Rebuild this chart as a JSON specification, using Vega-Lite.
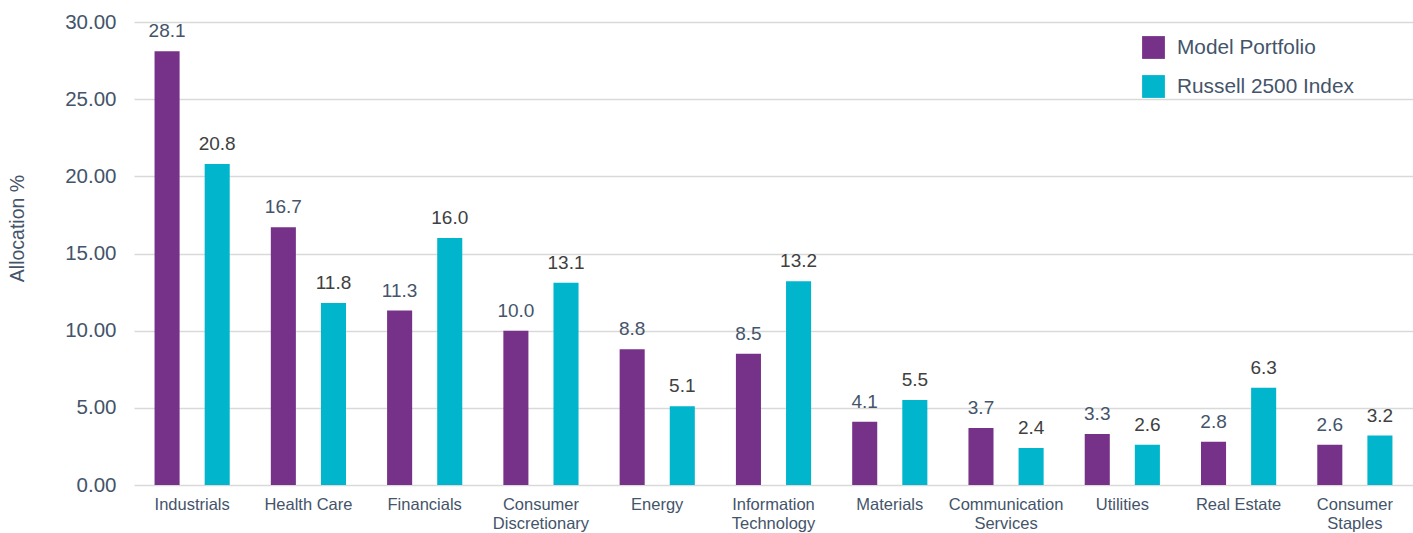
{
  "$schema": "https://vega.github.io/schema/vega-lite/v6.json",
  "autosize": {"type": "none"},
  "padding": {"left": 134, "top": 22, "right": 0, "bottom": 48},
  "width": 1279,
  "height": 463,
  "background": "white",
  "config": {
    "view": {"stroke": null},
    "font": "Liberation Sans"
  },
  "data": {
    "values": [
      {"sector": "Industrials", "series": "Model Portfolio", "value": 28.1},
      {"sector": "Industrials", "series": "Russell 2500 Index", "value": 20.8},
      {"sector": "Health Care", "series": "Model Portfolio", "value": 16.7},
      {"sector": "Health Care", "series": "Russell 2500 Index", "value": 11.8},
      {"sector": "Financials", "series": "Model Portfolio", "value": 11.3},
      {"sector": "Financials", "series": "Russell 2500 Index", "value": 16.0},
      {"sector": "Consumer Discretionary", "series": "Model Portfolio", "value": 10.0},
      {"sector": "Consumer Discretionary", "series": "Russell 2500 Index", "value": 13.1},
      {"sector": "Energy", "series": "Model Portfolio", "value": 8.8},
      {"sector": "Energy", "series": "Russell 2500 Index", "value": 5.1},
      {"sector": "Information Technology", "series": "Model Portfolio", "value": 8.5},
      {"sector": "Information Technology", "series": "Russell 2500 Index", "value": 13.2},
      {"sector": "Materials", "series": "Model Portfolio", "value": 4.1},
      {"sector": "Materials", "series": "Russell 2500 Index", "value": 5.5},
      {"sector": "Communication Services", "series": "Model Portfolio", "value": 3.7},
      {"sector": "Communication Services", "series": "Russell 2500 Index", "value": 2.4},
      {"sector": "Utilities", "series": "Model Portfolio", "value": 3.3},
      {"sector": "Utilities", "series": "Russell 2500 Index", "value": 2.6},
      {"sector": "Real Estate", "series": "Model Portfolio", "value": 2.8},
      {"sector": "Real Estate", "series": "Russell 2500 Index", "value": 6.3},
      {"sector": "Consumer Staples", "series": "Model Portfolio", "value": 2.6},
      {"sector": "Consumer Staples", "series": "Russell 2500 Index", "value": 3.2}
    ]
  },
  "encoding": {
    "x": {
      "field": "sector",
      "type": "nominal",
      "sort": null,
      "scale": {"paddingInner": 0, "paddingOuter": 0},
      "axis": {
        "title": null,
        "labelAngle": 0,
        "domain": false,
        "ticks": false,
        "labelPadding": 11,
        "labelFontSize": 16.5,
        "labelColor": "#44546A",
        "labelLineHeight": 19,
        "labelExpr": "indexof(['Consumer Discretionary','Information Technology','Communication Services','Consumer Staples'], datum.label) >= 0 ? split(datum.label, ' ') : datum.label"
      }
    },
    "xOffset": {
      "field": "series",
      "type": "nominal",
      "sort": ["Model Portfolio", "Russell 2500 Index"],
      "scale": {"paddingInner": 0.5, "paddingOuter": 0.41}
    },
    "y": {
      "field": "value",
      "type": "quantitative",
      "scale": {"domain": [0, 30]},
      "axis": {
        "title": "Allocation %",
        "titleFontSize": 19.5,
        "titleFontWeight": "normal",
        "titleColor": "#44546A",
        "titleX": -107,
        "titleY": 206,
        "titleAlign": "center",
        "titleAngle": -90,
        "format": ".2f",
        "values": [0, 5, 10, 15, 20, 25, 30],
        "labelFontSize": 20.5,
        "labelColor": "#44546A",
        "labelPadding": 18,
        "labelOverlap": false,
        "domain": false,
        "ticks": false,
        "grid": true,
        "gridColor": "#D9D9D9",
        "gridWidth": 1.5
      }
    }
  },
  "layer": [
    {
      "mark": {"type": "bar"},
      "encoding": {
        "color": {
          "field": "series",
          "type": "nominal",
          "scale": {"domain": ["Model Portfolio", "Russell 2500 Index"], "range": ["#763288", "#00B5CC"]},
          "legend": {
            "title": null,
            "orient": "none",
            "legendX": 1008,
            "legendY": 14,
            "symbolType": "square",
            "symbolSize": 520,
            "symbolStrokeWidth": 0,
            "labelFontSize": 20.8,
            "labelLimit": 400,
            "labelColor": "#44546A",
            "labelOffset": 12,
            "rowPadding": 16
          }
        }
      }
    },
    {
      "mark": {"type": "text", "baseline": "bottom", "dy": -10, "fontSize": 19},
      "encoding": {
        "text": {"field": "value", "type": "quantitative", "format": ".1f"},
        "color": {
          "condition": {"test": "datum.series === 'Model Portfolio'", "value": "#44546A"},
          "value": "#404040"
        }
      }
    }
  ]
}
